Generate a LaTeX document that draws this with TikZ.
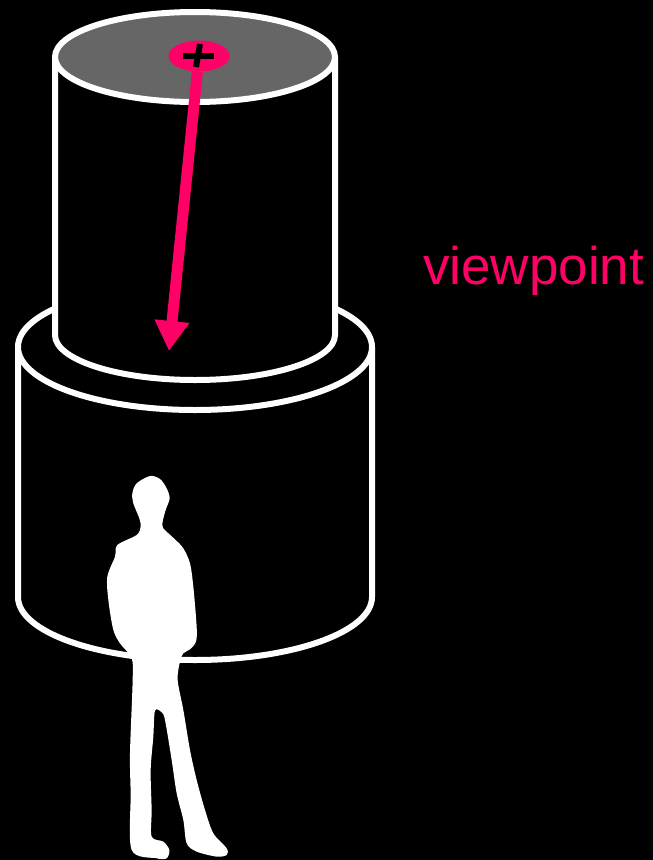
\documentclass[tikz,border=0pt]{standalone}
\usepackage{fontspec}
\setmainfont{Liberation Sans}
\usetikzlibrary{arrows.meta, shapes.geometric}
\definecolor{viewpink}{HTML}{FF0066}
\definecolor{topgrey}{HTML}{666666}

\begin{document}
\begin{tikzpicture}[
    x=1pt, y=-1pt,
    wall/.style={draw=white, line width=6pt, fill=black, line join=round},
    viewdot/.style={ellipse, fill=viewpink, minimum width=61pt, minimum height=31pt, inner sep=0pt},
    viewarrow/.style={draw=viewpink, line width=11pt, -{Triangle[length=30pt, width=33pt]}},
    cross/.style={draw=black, line width=6pt}
]
    % background
    \fill[black] (0,0) rectangle (653,860);
    \useasboundingbox (0,0) rectangle (653,860);

    % lower cylinder
    \draw[wall] (18,347) -- (18,597) arc[start angle=180, end angle=0, x radius=177, y radius=63]
        -- (372,347);
    \draw[wall] (195,347) ellipse[x radius=177, y radius=63];

    % upper cylinder
    \draw[wall] (55,57) -- (55,335) arc[start angle=180, end angle=0, x radius=140, y radius=45]
        -- (335,57);
    \draw[wall, fill=topgrey] (195,57) ellipse[x radius=140, y radius=45];

    % viewpoint
    \coordinate (tip) at (169,351);
    \node[viewdot] (dot) at (199,56) {};
    \draw[viewarrow] (dot) -- (tip);
    \draw[cross] (183,56) -- (214,56);
    \draw[cross] (200,44) -- (196,67);
    \node[anchor=base west, text=viewpink, font=\fontsize{53}{60}\selectfont, inner sep=0pt] (label) at (423,284) {viewpoint};

    % person
    \begin{scope}[shift={(100,460)}, x=0.3333pt, y=-0.3333pt]
        \fill[white] plot[smooth cycle, tension=0.5] coordinates {
            (150,48) (180,57) (200,85) (209,115) (197,150) (188,185) (190,205) (225,238)
            (250,265) (270,310) (280,380) (290,500) (288,545) (270,568) (250,580) (240,605)
            (233,660) (250,750) (270,870) (290,960) (315,1050) (340,1120) (380,1165) (380,1185)
            (350,1190) (290,1175) (260,1150) (250,1080) (230,1000) (215,900) (195,780) (185,757)
            (165,752) (160,830) (152,930) (155,1050) (155,1130) (190,1145) (208,1170) (200,1195)
            (170,1195) (95,1170) (92,1000) (90,880) (98,660) (95,595) (60,550) (40,510)
            (25,420) (22,350) (45,290) (52,255) (110,225) (122,200) (118,175) (100,130)
            (97,100) (110,70)};
    \end{scope}
\end{tikzpicture}
\end{document}
